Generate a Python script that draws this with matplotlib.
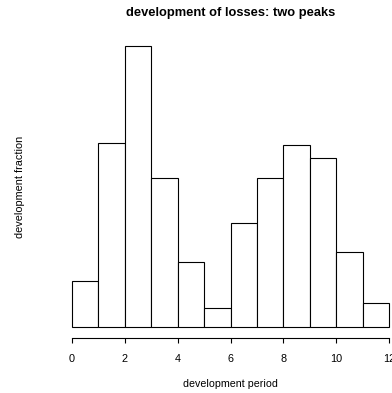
import matplotlib
matplotlib.use("Agg")
import matplotlib.pyplot as plt
import numpy as np

plt.rcParams['font.family'] = ['Liberation Sans', 'DejaVu Sans']

# histogram bins (development period) and bar heights (development fraction)
bin_edges = [0, 1, 2, 3, 4, 5, 6, 7, 8, 9, 10, 11, 12]
fractions = [0.032, 0.127, 0.194, 0.103, 0.045, 0.013,
             0.072, 0.103, 0.126, 0.117, 0.052, 0.017]
x_ticks = [0, 2, 4, 6, 8, 10, 12]

fig = plt.figure(figsize=(3.92, 3.93), dpi=100)
ax = fig.add_axes([0.1513, 0.1387, 0.8735, 0.7723])

lefts = np.array(bin_edges[:-1])
widths = np.diff(bin_edges)
ax.bar(lefts, fractions, width=widths, align='edge',
       facecolor='white', edgecolor='black', linewidth=0.8)

xr = bin_edges[-1] - bin_edges[0]
yr = max(fractions)
ax.set_xlim(bin_edges[0] - 0.04 * xr, bin_edges[-1] + 0.04 * xr)
ax.set_ylim(-0.04 * yr, yr * 1.04)

for s in ['top', 'right', 'left']:
    ax.spines[s].set_visible(False)
ax.spines['bottom'].set_bounds(bin_edges[0], bin_edges[-1])
ax.spines['bottom'].set_linewidth(0.8)
ax.set_yticks([])
ax.set_xticks(x_ticks)
ax.set_xticklabels([str(t) for t in x_ticks])
ax.tick_params(axis='x', direction='out', length=3.8, width=0.8,
               labelsize=7.8, pad=7.5)

ax.set_title('development of losses: two peaks', fontsize=9.3,
             fontweight='bold', pad=13.5)
ax.set_xlabel('development period', fontsize=7.7, labelpad=10.5)
ax.set_ylabel('development fraction', fontsize=7.8, labelpad=25)

fig.savefig('out.png', dpi=100)
